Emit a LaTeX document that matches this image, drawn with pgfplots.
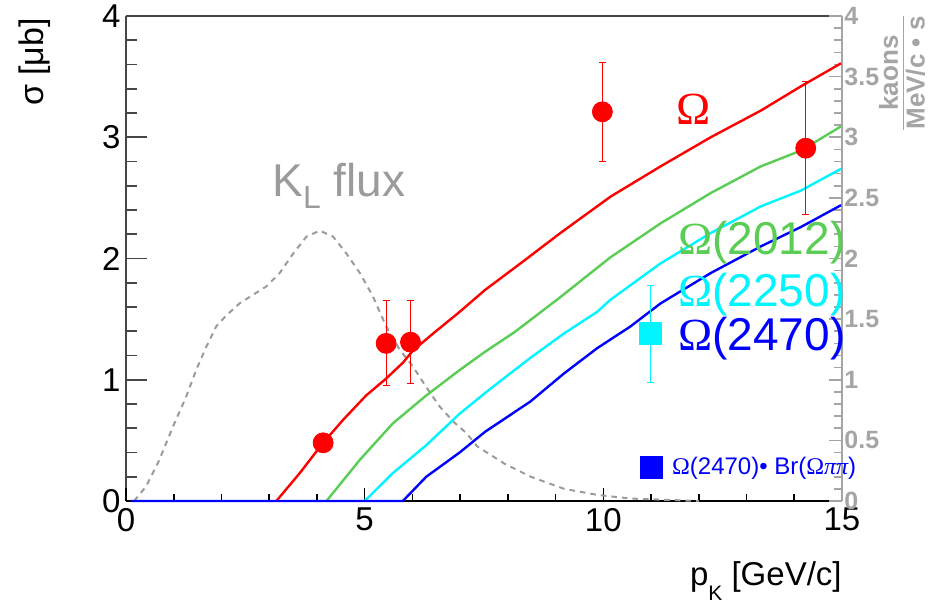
\documentclass[border=0pt]{standalone}
\usepackage{fontspec}
\setmainfont{Liberation Sans}
\newfontfamily\serif{Liberation Serif}
\usepackage{pgfplots}
\pgfplotsset{compat=1.18}
\definecolor{omgreen}{RGB}{89,205,84}
\definecolor{omcyan}{RGB}{0,245,255}
\definecolor{fluxgray}{RGB}{155,155,155}
\definecolor{axgray}{RGB}{165,165,165}
\definecolor{axdark}{RGB}{70,70,70}
\begin{document}
\begin{tikzpicture}
\useasboundingbox (-63pt,-52.5pt) rectangle (403.5pt,250.5pt);
\pgfplotsset{base/.style={scale only axis, width=358pt, height=242.5pt,
  xmin=0, xmax=15, ymin=0, ymax=4, /pgf/number format/assume math mode=true}}
% top + left axis
\begin{axis}[base, axis x line=top, axis y line=left, xtick=\empty,
  ytick={0,1,2,3,4}, minor y tick num=4, tick align=inside,
  major tick length=10.5pt, minor tick length=5.5pt,
  axis line style={line width=1pt, color=axdark, -},
  x axis line style={-}, y axis line style={-},
  tick style={line width=0.8pt, color=axdark},
  yticklabel style={font=\fontsize{16.5}{18}\selectfont, inner xsep=2.5pt}]
\end{axis}
% bottom axis
\begin{axis}[base, axis x line=bottom, axis y line=none,
  xtick={0,5,10,15}, minor x tick num=4, tick align=inside,
  major tick length=6.5pt, minor tick length=3.5pt,
  axis line style={line width=1pt, black, -}, x axis line style={-},
  tick style={line width=0.8pt, black},
  xticklabel style={font=\fontsize{16.5}{18}\selectfont}]
\end{axis}
% right axis (flux)
\begin{axis}[base, axis x line=none, axis y line=right,
  ytick={0,0.5,1,1.5,2,2.5,3,3.5,4}, minor y tick num=4, tick align=inside,
  major tick length=6.5pt, minor tick length=4pt,
  axis line style={line width=1pt, axgray, -}, y axis line style={-},
  tick style={line width=0.8pt, axgray},
  yticklabel style={font=\bfseries\fontsize{12.5}{14}\selectfont, text=axgray, inner xsep=1pt}, clip=false]
\node[rotate=90, anchor=east, inner sep=0pt, text=axgray,
  font=\bfseries\fontsize{13}{14.5}\selectfont] at (rel axis cs:1.0885,1)
  {\begin{tabular}{@{}c@{}}kaons\\[-1.5pt]\hline \rule{0pt}{9.5pt}MeV/c • s\end{tabular}};
\end{axis}
% data
\begin{axis}[base, hide axis, clip=false,
  legend image code/.code={\draw[#1] plot coordinates {(5.5pt,0pt)};},
  legend style={at={(axis cs:10.77,0.28)}, anchor=west, draw=none, fill=none,
    inner sep=0pt, outer sep=0pt, font=\fontsize{12}{14}\selectfont, text=blue,
    /tikz/every odd column/.append style={column sep=3pt}},
  legend cell align=left]
\addlegendimage{only marks, mark=square*, mark size=5.5pt, color=blue}
\addlegendentry{{\serif Ω}(2470)• Br({\serif Ω}{\serif\itshape ππ})}
% K_L flux (right scale)
\addplot[fluxgray, line width=1pt, dash pattern=on 2.8pt off 2.5pt] coordinates {
(0.17,0) (0.42,0.12) (0.70,0.34) (0.98,0.61) (1.26,0.86) (1.47,1.08) (1.68,1.27)
(1.89,1.44) (2.10,1.53) (2.38,1.63) (2.66,1.70) (2.94,1.77) (3.22,1.88) (3.50,2.04)
(3.78,2.18) (4.06,2.23) (4.34,2.18) (4.62,2.04) (4.90,1.88) (5.17,1.69) (5.45,1.44)
(5.73,1.25) (6.01,1.11) (6.29,0.94) (6.57,0.78) (6.87,0.65) (7.13,0.56) (7.36,0.45)
(7.92,0.31) (8.48,0.20) (9.18,0.10) (9.88,0.05) (10.58,0.02) (11.3,0.01) (12.0,0.0)};
% Omega
\addplot[red, line width=1.2pt] coordinates {
(3.15,0) (3.64,0.23) (4.13,0.48) (4.55,0.67) (5.03,0.87) (5.45,1.01) (5.80,1.14)
(6.01,1.24) (6.43,1.38) (6.99,1.56) (7.52,1.74) (8.30,1.97) (9.10,2.21) (10.15,2.51)
(11.20,2.76) (12.25,3.00) (13.30,3.22) (14.14,3.42) (14.98,3.61)};
% Omega(2012)
\addplot[omgreen, line width=1.2pt] coordinates {
(4.20,0) (4.90,0.34) (5.59,0.64) (6.29,0.87) (6.99,1.08) (7.52,1.23) (8.13,1.39)
(9.03,1.66) (10.15,2.01) (11.20,2.29) (12.25,2.54) (13.30,2.76) (14.14,2.89) (14.98,3.09)};
% Omega(2250)
\addplot[omcyan, line width=1.2pt] coordinates {
(5.00,0) (5.59,0.23) (6.29,0.46) (6.99,0.72) (7.52,0.89) (7.78,0.97) (8.47,1.18)
(9.17,1.38) (9.87,1.56) (10.15,1.66) (11.20,1.96) (12.25,2.21) (13.30,2.43)
(14.14,2.56) (14.98,2.74)};
% Omega(2470)
\addplot[blue, line width=1.2pt] coordinates {
(0.10,0) (5.80,0) (6.29,0.20) (6.99,0.40) (7.52,0.57) (8.47,0.82) (9.17,1.05)
(9.87,1.26) (10.57,1.44) (11.20,1.63) (12.25,1.88) (13.30,2.10) (14.14,2.26) (14.98,2.44)};
% data points
\addplot[only marks, mark=*, mark size=5pt, red,
  error bars/.cd, y dir=both, y explicit,
  error bar style={line width=0.5pt, red},
  error mark options={rotate=90, mark size=1.75pt, line width=0.5pt, red}]
  coordinates {(4.13,0.48) +- (0,0) (5.45,1.30) +- (0,0.35) (5.96,1.31) +- (0,0.34)
  (9.98,3.21) +- (0,0.41) (14.24,2.91) +- (0,0.55)};
\addplot[only marks, mark=square*, mark size=5.5pt, omcyan,
  error bars/.cd, y dir=both, y explicit,
  error bar style={line width=0.5pt, omcyan},
  error mark options={rotate=90, mark size=1.75pt, line width=0.5pt, omcyan}]
  coordinates {(10.99,1.38) +- (0,0.40)};
% labels
\node[text=red, inner sep=0pt, font=\serif\fontsize{23}{26}\selectfont] at (axis cs:11.9,3.23) {Ω};
\node[text=omgreen, anchor=west, inner sep=0pt, font=\fontsize{23}{26}\selectfont] at (axis cs:11.56,2.13) {{\serif Ω}(2012)};
\node[text=omcyan, anchor=west, inner sep=0pt, font=\fontsize{23}{26}\selectfont] at (axis cs:11.56,1.70) {{\serif Ω}(2250)};
\node[text=blue, anchor=west, inner sep=0pt, font=\fontsize{23}{26}\selectfont] at (axis cs:11.56,1.34) {{\serif Ω}(2470)};
\node[text=fluxgray, anchor=base west, inner sep=0pt, font=\fontsize{23}{26}\selectfont] at (axis cs:3.06,2.51) {K\raisebox{-6pt}{\fontsize{16}{18}\selectfont L} flux};
% axis titles
\node[rotate=90, font=\fontsize{17}{20}\selectfont] at (rel axis cs:-0.127,0.905) {σ [μb]};
\node[anchor=base east, inner sep=0pt, font=\fontsize{16.5}{18}\selectfont] at (rel axis cs:1,-0.1732) {p\raisebox{-7.5pt}{\fontsize{10.5}{12}\selectfont K} [GeV/c]};
\end{axis}
\end{tikzpicture}
\end{document}
